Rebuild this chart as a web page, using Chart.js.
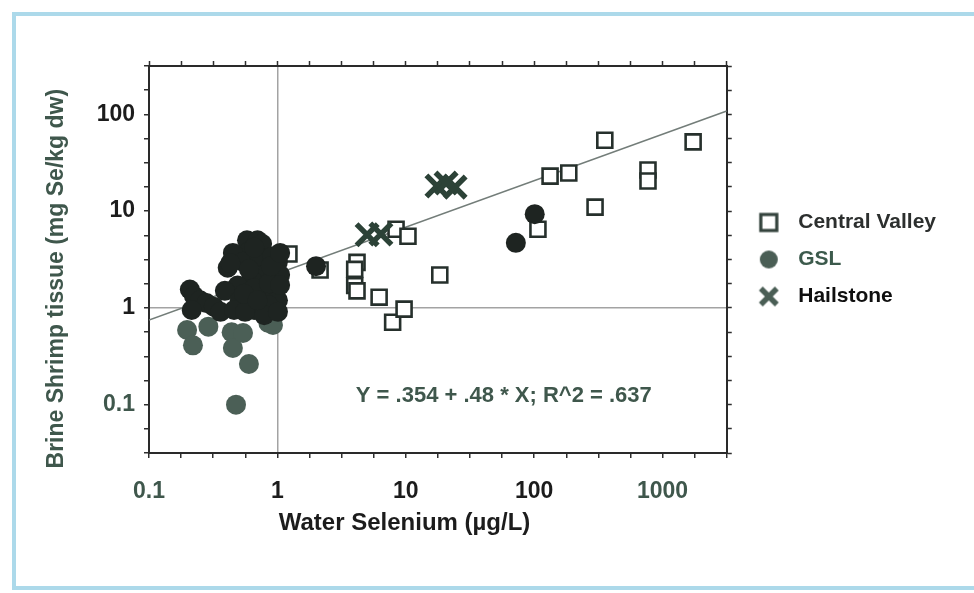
<!DOCTYPE html>
<html>
<head>
<meta charset="utf-8">
<title>Brine shrimp tissue selenium vs water selenium</title>
<script src="https://cdn.jsdelivr.net/npm/chart.js@4.4.1/dist/chart.umd.min.js"></script>
<style>
  html, body { margin: 0; padding: 0; background: #ffffff; overflow: hidden; }
  #wrap { position: relative; width: 974px; height: 593px; }
  #plot { position: absolute; left: 0; top: 0; }
  #frame { position: absolute; left: 12px; top: 12px; width: 990px; height: 570px;
           border: 4px solid #acd9ea; pointer-events: none; }
</style>
</head>
<body>
<div id="wrap">
  <canvas id="plot" width="974" height="593"></canvas>
  <div id="frame"></div>
</div>
<script>
// ---- data (water Se in µg/L, tissue Se in mg Se/kg dw) ----
const SERIES_NAMES = ['Central Valley', 'GSL', 'Hailstone'];

const centralValleyX = [1.23, 2.15, 4.17, 4.0, 4.0, 4.17, 6.2, 7.9, 9.7, 8.4, 10.4, 18.4, 107, 133, 186, 298, 355, 770, 770, 1730];
const centralValleyY = [3.6, 2.46, 2.95, 2.5, 1.7, 1.5, 1.29, 0.71, 0.97, 6.5, 5.5, 2.19, 6.5, 23, 24.8, 11, 54, 26.6, 20.5, 52];

const gslX = [0.198, 0.22, 0.29, 0.44, 0.45, 0.60, 0.476, 0.54, 0.85, 0.924,
              0.58, 0.70, 0.76, 0.61, 0.45, 0.41, 0.54, 0.73, 0.91, 1.01,
              1.05, 0.79, 0.63, 0.49, 0.39, 0.51, 0.76, 0.96, 1.01, 0.85,
              0.66, 0.208, 0.224, 0.25, 0.28, 0.32, 0.215, 0.36, 0.46, 0.56,
              0.79, 1.01, 0.60, 0.66, 0.55, 0.70, 0.86, 0.89, 0.66, 1.05,
              1.05, 0.43, 2.0, 72, 101];
const gslY = [0.59, 0.41, 0.64, 0.56, 0.385, 0.263, 0.1, 0.55, 0.70, 0.665,
              5.0, 5.0, 4.6, 3.9, 3.7, 2.6, 3.0, 3.3, 3.4, 3.0,
              2.2, 2.2, 1.95, 1.7, 1.5, 1.2, 1.35, 1.5, 1.2, 1.07,
              0.95, 1.55, 1.33, 1.2, 1.12, 1.03, 0.95, 0.91, 0.95, 0.91,
              0.84, 0.91, 2.5, 1.6, 1.4, 1.2, 1.8, 2.7, 4.2, 3.7,
              1.72, 2.9, 2.7, 4.7, 9.3];

const hailstoneX = [5.0, 6.4, 17.5, 20.6, 24.2];
const hailstoneY = [5.7, 5.8, 18.2, 19.5, 17.7];

// log-log regression: log10(Y) = a + b * log10(X)
const FIT_INTERCEPT = 0.354;
const FIT_SLOPE = 0.48;
const FIT_R2 = '.637';
const FIT_X_RANGE = [0.1, 3162];
const EQUATION_TEXT = 'Y = .354 + .48 * X; R^2 = ' + FIT_R2;

// axis ranges (powers of ten) and labelled ticks
const X_EXP_RANGE = [-1, 3.5];
const Y_EXP_RANGE = [-1.5, 2.5];
const X_TICK_VALUES = [0.1, 1, 10, 100, 1000];
const X_TICK_LABELS = ['0.1', '1', '10', '100', '1000'];
const Y_TICK_VALUES = [0.1, 1, 10, 100];
const Y_TICK_LABELS = ['0.1', '1', '10', '100'];

// ---- helpers ----
const FONT = '"Liberation Sans", Arial, Helvetica, sans-serif';
const INK = '#1c1c1c';
const GREEN_INK = '#3f574c';

const pairs = (xs, ys) => xs.map((x, i) => ({ x: x, y: ys[i] }));
const fitY = x => Math.pow(10, FIT_INTERCEPT + FIT_SLOPE * Math.log10(x));

// minor tick marks every quarter decade
function quarterDecades(range) {
  const out = [];
  for (let k = Math.round(range[0] * 4); k <= Math.round(range[1] * 4); k++) {
    out.push({ value: Math.pow(10, k / 4) });
  }
  return out;
}
const near = (a, b) => Math.abs(Math.log10(a) - Math.log10(b)) < 1e-6;
function labelFor(value, vals, labels) {
  const i = vals.findIndex(v => near(v, value));
  return i >= 0 ? labels[i] : '';
}

// legend marker images
function markerImage(kind) {
  const c = document.createElement('canvas');
  c.width = 24; c.height = 24;
  const g = c.getContext('2d');
  if (kind === 'square') {
    g.fillStyle = '#ffffff';
    g.strokeStyle = '#34433d';
    g.lineWidth = 3.2;
    g.fillRect(4, 4, 16, 16);
    g.strokeRect(4, 4, 16, 16);
  } else if (kind === 'circle') {
    g.fillStyle = '#4a5e55';
    g.beginPath(); g.arc(12, 12, 9, 0, Math.PI * 2); g.fill();
  } else {
    g.strokeStyle = '#4a5e55';
    g.lineWidth = 5.5;
    g.beginPath();
    g.moveTo(4, 4); g.lineTo(20, 20);
    g.moveTo(20, 4); g.lineTo(4, 20);
    g.stroke();
  }
  return c;
}
const LEGEND_MARKERS = [markerImage('square'), markerImage('circle'), markerImage('x')];
const LEGEND_COLORS = ['#2c2f2e', '#3c5a4c', '#0f0f0f'];

function logAxis(position, expRange, opts) {
  return Object.assign({
    type: 'logarithmic',
    position: position,
    min: Math.pow(10, expRange[0]),
    max: Math.pow(10, expRange[1]),
    afterBuildTicks: scale => { scale.ticks = quarterDecades(expRange); },
    border: { display: true, color: '#2a2a2a', width: 2 },
    grid: {
      drawOnChartArea: false,
      drawTicks: true,
      tickLength: 5,
      tickWidth: 1.5,
      tickColor: '#2e2e2e'
    },
    ticks: { display: false, autoSkip: false }
  }, opts);
}

// ---- equation label inside the plot ----
const equationLabel = {
  id: 'equationLabel',
  afterDatasetsDraw(chart) {
    const { ctx, scales } = chart;
    ctx.save();
    ctx.font = 'bold 22px ' + FONT;
    ctx.fillStyle = GREEN_INK;
    ctx.textAlign = 'center';
    ctx.textBaseline = 'middle';
    ctx.fillText(EQUATION_TEXT, scales.x.getPixelForValue(58), scales.y.getPixelForValue(0.123));
    ctx.restore();
  }
};

Chart.defaults.font.family = FONT;

new Chart(document.getElementById('plot'), {
  type: 'scatter',
  data: {
    datasets: [
      {
        label: SERIES_NAMES[0],
        data: pairs(centralValleyX, centralValleyY),
        pointStyle: 'rect',
        pointRadius: 10.6,
        pointBorderWidth: 2.6,
        pointBorderColor: '#26302c',
        pointBackgroundColor: '#ffffff',
        order: 2
      },
      {
        label: SERIES_NAMES[1],
        data: pairs(gslX, gslY),
        pointStyle: 'circle',
        pointRadius: 10,
        pointBorderWidth: 0,
        pointBackgroundColor: ctx => (ctx.raw && ctx.raw.y >= 0.8) ? '#1e2421' : '#4b5f56',
        pointBorderColor: 'rgba(0,0,0,0)',
        order: 1
      },
      {
        label: SERIES_NAMES[2],
        data: pairs(hailstoneX, hailstoneY),
        pointStyle: 'crossRot',
        pointRadius: 15,
        pointBorderWidth: 5.5,
        pointBorderColor: '#2c4237',
        order: 0
      },
      {
        label: 'fit',
        type: 'line',
        data: FIT_X_RANGE.map(x => ({ x: x, y: fitY(x) })),
        borderColor: '#737d79',
        borderWidth: 1.6,
        pointRadius: 0,
        fill: false,
        tension: 0,
        order: 3
      }
    ]
  },
  options: {
    responsive: false,
    animation: false,
    events: [],
    layout: { padding: { left: 0, top: 0, right: 28, bottom: 0 } },
    scales: {
      x: logAxis('bottom', X_EXP_RANGE, {
        afterFit: s => { s.height = 140; },
        grid: {
          drawOnChartArea: true,
          drawTicks: true,
          tickLength: 5,
          tickWidth: 1.5,
          tickColor: '#2e2e2e',
          lineWidth: 1.5,
          color: ctx => (ctx.tick && near(ctx.tick.value, 1)) ? '#a3a3a3' : 'rgba(0,0,0,0)'
        },
        ticks: {
          display: true,
          autoSkip: false,
          maxRotation: 0,
          padding: 20,
          font: { size: 23, weight: 'bold' },
          color: ctx => (ctx.tick && (near(ctx.tick.value, 0.1) || near(ctx.tick.value, 1000))) ? GREEN_INK : INK,
          callback: value => labelFor(value, X_TICK_VALUES, X_TICK_LABELS)
        },
        title: {
          display: true,
          // trailing spaces keep the title a little left of the axis centre
          text: 'Water Selenium (µg/L)          ',
          color: INK,
          font: { size: 24, weight: 'bold' },
          padding: { top: 0, bottom: 55 }
        }
      }),
      x2: logAxis('top', X_EXP_RANGE, {
        afterFit: s => { s.height = 66; }
      }),
      y: logAxis('left', Y_EXP_RANGE, {
        afterFit: s => { s.width = 149; },
        grid: {
          drawOnChartArea: true,
          drawTicks: true,
          tickLength: 5,
          tickWidth: 1.5,
          tickColor: '#2e2e2e',
          lineWidth: 1.5,
          color: ctx => (ctx.tick && near(ctx.tick.value, 1)) ? '#a3a3a3' : 'rgba(0,0,0,0)'
        },
        ticks: {
          display: true,
          autoSkip: false,
          padding: 9,
          font: { size: 23, weight: 'bold' },
          color: ctx => (ctx.tick && near(ctx.tick.value, 0.1)) ? GREEN_INK : INK,
          callback: value => labelFor(value, Y_TICK_VALUES, Y_TICK_LABELS)
        },
        title: {
          display: true,
          // trailing spaces move the rotated title slightly downward
          text: 'Brine Shrimp tissue (mg Se/kg dw)      ',
          color: GREEN_INK,
          font: { size: 23, weight: 'bold' },
          padding: { top: 43, bottom: 0 }
        }
      }),
      y2: logAxis('right', Y_EXP_RANGE, {
        afterFit: s => { s.width = 7; }
      })
    },
    plugins: {
      tooltip: { enabled: false },
      legend: {
        display: true,
        position: 'right',
        align: 'center',
        fullSize: false,
        maxWidth: 320,
        labels: {
          usePointStyle: true,
          pointStyleWidth: 38,
          padding: 16,
          font: { size: 21, weight: 'bold' },
          generateLabels: () => SERIES_NAMES.map((name, i) => ({
            text: name,
            fontColor: LEGEND_COLORS[i],
            pointStyle: LEGEND_MARKERS[i],
            datasetIndex: i,
            hidden: false,
            lineWidth: 0,
            fillStyle: 'rgba(0,0,0,0)',
            strokeStyle: 'rgba(0,0,0,0)'
          }))
        }
      }
    }
  },
  plugins: [equationLabel]
});
</script>
</body>
</html>
